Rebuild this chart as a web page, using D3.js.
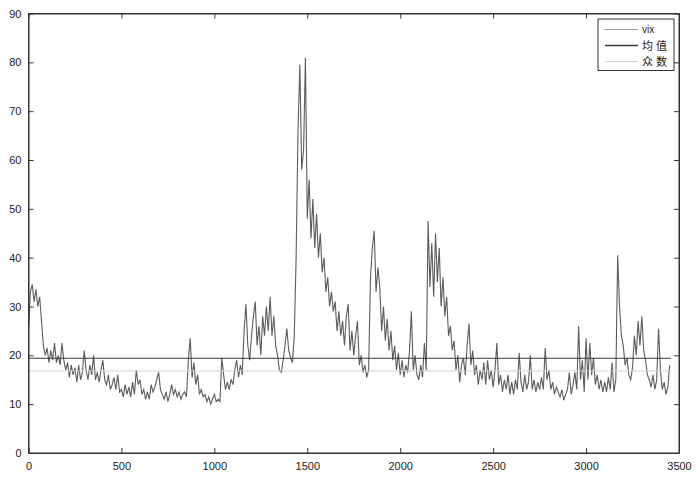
<!DOCTYPE html>
<html>
<head>
<meta charset="utf-8">
<script src="https://cdn.jsdelivr.net/npm/d3@7"></script>
<style>
body { margin: 0; background: #fff; }
.axis text { font-family: "Liberation Sans", Arial, sans-serif; font-size: 11px; fill: #222; }
</style>
</head>
<body>
<svg id="chart"></svg>
<script>
// vix values, one every 10 days
var step = 10;
var vix = [
  25, 33, 34.5, 31, 33.5, 30, 32, 27, 22, 20,
  21.5, 18.5, 21, 19, 22.5, 18.5, 20, 18, 22.5, 19,
  17, 18.5, 15.5, 18, 16, 17.5, 14.5, 18, 15, 16.5,
  21, 17, 15, 18, 16, 20, 15, 16.5, 14.5, 17,
  19, 15, 14, 16, 13, 14, 15.5, 13, 16, 12.5,
  13, 11.5, 14, 12, 13.5, 11.5, 14.5, 12, 17, 14,
  15, 12, 13, 11, 12.5, 11, 14, 12.5, 13.5, 15,
  16.5, 13, 12, 11, 12.5, 10.5, 12, 14, 12, 13,
  11.5, 12.5, 11, 12, 12.5, 11.5, 19, 23.5, 15.5, 18.5,
  14, 16, 12, 13, 11.5, 12, 10.5, 11.5, 10, 11,
  12, 10.5, 11, 10.5, 19.5, 16, 13, 14.5, 13, 15,
  14, 17, 19, 15.5, 18, 16, 25, 30.5, 22, 19,
  24, 28, 31, 22, 26, 20, 28, 24, 30, 25,
  32, 24, 28, 22, 20, 17, 16.5, 19, 22, 25.5,
  21, 19.5, 18.5, 24, 40, 66, 79.5, 58, 62, 81,
  48, 56, 44, 52, 42, 49, 40, 45, 37, 40,
  33, 36, 30, 33, 29, 31, 25, 29, 24, 27,
  22, 28, 30.5, 21, 25, 20, 24, 27, 18, 20,
  16.5, 18, 15.5, 17, 36, 42, 45.5, 33, 38, 34,
  25, 30, 23, 27.5, 21, 25, 19, 22, 17, 20.5,
  16, 19, 15.5, 18, 16.5, 21, 29, 17, 20, 16,
  15, 18, 15.5, 22.5, 17, 47.5, 34, 43, 32, 45,
  35, 42, 30, 36, 28, 32, 24, 26, 21, 23,
  17, 20, 14.5, 18, 19.5, 16, 22, 26.5, 18, 21,
  16, 18, 14, 17, 15, 18.5, 14, 19, 15, 17,
  13.5, 17, 22.5, 14, 16, 12.5, 15, 13, 16, 12,
  14.5, 12, 15, 13, 20.5, 14.5, 12.5, 16, 13, 14.5,
  20, 13, 15, 12.5, 14.5, 13, 15.5, 13, 21.5, 15,
  17, 13, 14.5, 12, 13.5, 12.5, 11.5, 13, 10.8, 12,
  13, 16.5, 12, 14, 16.5, 13, 26, 15, 19, 12.5,
  23.5, 15, 22.5, 16, 19.5, 14, 16, 13, 15, 12.5,
  14.5, 12.5, 15.5, 13, 18.5, 12.5, 15, 40.5, 30, 24,
  22, 18, 19.5, 16, 15, 17.5, 24, 20, 27, 22,
  28, 21, 19, 16, 15, 13.5, 16, 13, 15, 25.5,
  17, 13, 14.5, 12, 13.5, 18
];
var meanValue = 19.4,
modeValue = 16.8,
lastDay = 3456;

var xTicks = [0, 500, 1000, 1500, 2000, 2500, 3000, 3500],
yTicks = [0, 10, 20, 30, 40, 50, 60, 70, 80, 90];

var series = [
  {name: "vix", color: "#5c5c5c"},
  {name: "均值", color: "#3a3a3a"},
  {name: "众数", color: "#d2d2d2"}
];

var width = 700, height = 478,
margin = {top: 13.5, right: 21, bottom: 25, left: 28.5};

var svg = d3.select("#chart")
.attr("width", width)
.attr("height", height);

var x = d3.scaleLinear()
.domain([0, 3500])
.range([margin.left, width - margin.right]);

var y = d3.scaleLinear()
.domain([0, 90])
.range([height - margin.bottom, margin.top]);

var line = d3.line()
.x(function (d, i) { return x(i * step); })
.y(function (d) { return y(d); });

// data
svg.append("path")
.datum(vix)
.attr("fill", "none")
.attr("stroke", series[0].color)
.attr("stroke-width", 1.1)
.attr("d", line);

svg.append("line")
.attr("x1", x(0)).attr("x2", x(lastDay))
.attr("y1", y(meanValue)).attr("y2", y(meanValue))
.attr("stroke", series[1].color)
.attr("stroke-width", 1);

svg.append("line")
.attr("x1", x(0)).attr("x2", x(lastDay))
.attr("y1", y(modeValue)).attr("y2", y(modeValue))
.attr("stroke", series[2].color)
.attr("stroke-width", 1);

// axes, ticks inside like matlab
var tk = 5, fmt = d3.format("d");
svg.append("g")
.attr("class", "axis")
.attr("transform", "translate(0," + y(0) + ")")
.call(d3.axisBottom(x).tickValues(xTicks).tickFormat(fmt).tickSizeInner(-tk).tickSizeOuter(0).tickPadding(9));

svg.append("g")
.attr("class", "axis")
.attr("transform", "translate(0," + y(90) + ")")
.call(d3.axisTop(x).tickValues(xTicks).tickSizeInner(-tk).tickSizeOuter(0).tickFormat(""));

svg.append("g")
.attr("class", "axis")
.attr("transform", "translate(" + x(0) + ",0)")
.call(d3.axisLeft(y).tickValues(yTicks).tickFormat(fmt).tickSizeInner(-tk).tickSizeOuter(0).tickPadding(7));

svg.append("g")
.attr("class", "axis")
.attr("transform", "translate(" + x(3500) + ",0)")
.call(d3.axisRight(y).tickValues(yTicks).tickSizeInner(-tk).tickSizeOuter(0).tickFormat(""));

svg.selectAll(".axis .domain").attr("stroke", "#333");
svg.selectAll(".axis .tick line").attr("stroke", "#333");

svg.append("rect")
.attr("x", x(0)).attr("y", y(90))
.attr("width", x(3500) - x(0))
.attr("height", y(0) - y(90))
.attr("fill", "none")
.attr("stroke", "#333")
.attr("stroke-width", 1);

// legend
var lg = svg.append("g")
.attr("transform", "translate(598,19)");

lg.append("rect")
.attr("width", 76)
.attr("height", 51.5)
.attr("fill", "#fff")
.attr("stroke", "#333");

var item = lg.selectAll("g.item")
.data(series)
.enter().append("g")
.attr("class", "item")
.attr("transform", function (d, i) { return "translate(0," + (10.5 + i * 16) + ")"; });

item.append("line")
.attr("x1", 7).attr("x2", 40)
.attr("stroke", function (d, i) { return i == 0 ? "#9a9a9a" : d.color; })
.attr("stroke-width", function (d, i) { return i == 1 ? 1.5 : 1; });

item.append("text")
.attr("x", 44)
.attr("y", function (d, i) { return i == 0 ? 3.5 : 4.5; })
.attr("font-family", function (d, i) { return i == 0 ? "Liberation Sans, Arial, sans-serif" : "Noto Sans CJK SC, sans-serif"; })
.attr("font-size", function (d, i) { return i == 0 ? "10px" : "11px"; })
.attr("letter-spacing", function (d, i) { return i == 0 ? "0px" : "3px"; })
.attr("fill", "#222")
.text(function (d) { return d.name; });
</script>
</body>
</html>
